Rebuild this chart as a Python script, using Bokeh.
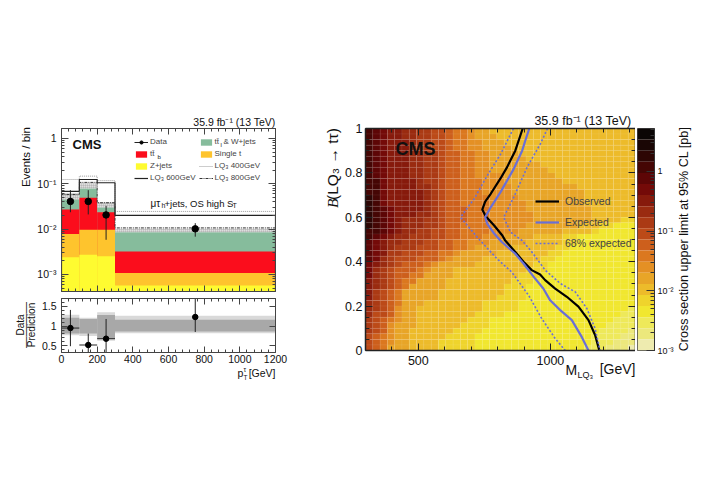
from math import pi

from bokeh.core.properties import value
from bokeh.embed import file_html
from bokeh.layouts import column, row
from bokeh.models import (ColumnDataSource, CustomJSTickFormatter, FixedTicker, Legend,
                          LegendItem, LinearAxis, LogAxis, LogColorMapper, LogTicker)
from bokeh.plotting import figure
from bokeh.resources import INLINE

FONT = "Liberation Sans"

# left panel: pT spectrum
bin_left = [0, 100, 200, 300]
bin_right = [100, 200, 300, 1200]
bin_center = [50, 150, 250, 750]
y_floor = 4.2e-4
zjets_top = [0.0024, 0.0027, 0.0025, 0.00057]
singlet_top = [0.0078, 0.0097, 0.0096, 0.00107]
ttb_top = [0.027, 0.049, 0.0236, 0.0032]
ttw_top = [0.045, 0.078, 0.030, 0.0085]
unc_top = [0.061, 0.103, 0.039, 0.0102]
lq400 = [0.124, 0.147, 0.117, 0.0245]
lq600 = [0.068, 0.124, 0.105, 0.0200]
lq800 = [0.058, 0.107, 0.038, 0.0106]
data_y = [0.0407, 0.0407, 0.0205, 0.0101]
data_up = [0.072, 0.072, 0.0325, 0.0135]
data_down = [0.0235, 0.021, 0.0058, 0.0068]

# ratio panel
ratio_y = [0.95, 0.52, 0.68, 1.23]
ratio_up = [1.41, 0.81, 1.18, 1.7]
ratio_down = [0.49, 0.33, 0.33, 0.85]
ratio_xerr = [50, 50, 50, 0]
band_light_up = [1.29, 1.21, 1.35, 1.26]
band_light_down = [0.77, 0.75, 0.63, 0.82]
band_dark_up = [1.21, 1.18, 1.28, 1.16]
band_dark_down = [0.81, 0.81, 0.68, 0.86]

# right panel: one string per row from B=1 down to B=0, one band number per mass bin (dark 0 ... j light)
limit_rows = [
    "34566778899abbcddeeeeeeeeeeeeeeeeeeee",
    "34566778899abbcdddeeeeeeeeeeeeeeeeeee",
    "34566678899abbccdddeeeeeeeeeeeeeeeeee",
    "34566678899abbccddddeeeeeeeeeeeeeeeee",
    "34566677889aabbccddddeeeeeeeeeeeeeeee",
    "34566677889aabbccdddddeeeeeeeeeeeeeee",
    "34566677889aabbccdddddddeeeeeeeeeeeee",
    "34566677889aabbccddddddddeeeeeeeeeeee",
    "34566677889aabbccccdddddddeeeeeeeeeee",
    "33566667889aabbbcccddddddddeeeeeeeeee",
    "33566667789aabbbccccdddddddddeeeeeeee",
    "33566666789aabbbccccddddddddddeeeeeee",
    "23566666789aabbbbccccdddddddddeeeeeee",
    "23566666789aabbbbcccccddddddddeeeeeee",
    "23456666789aaabbbcccccdddddddddeeeeee",
    "23456667789aaabbbccccccddddddddeeeeee",
    "23456777889aaabbbccccccddddddddeeeeff",
    "23456777889aabbbbcccccdddddddeeeffggg",
    "33456778899aabbbbccccddddddeeeefggggg",
    "34567788899aabbbcccddddeeeeffgggggggg",
    "4567788899aabbcccdddddeeeeeffgggggggg",
    "4567888999aabbcdddddeeeeeeffggggggggg",
    "45688999aabbcdddddeeeeeeeffgggggggggg",
    "4578999aaabcddddeeeeeeeeffggggggggggg",
    "56789aaabcdddddeeeeeeeeffgggggggggggg",
    "5789aaabcdddeeeeeeeeeefffgggggggggggg",
    "5789aabbddddeeeeeeeeefffggggggggggggg",
    "6789abbddddeeeeeeeeefffgggggggggggggg",
    "6789abdddddeeeeeeeefffggggggggggggggg",
    "689abdddddeeeeeeeeefffggggggggggggggg",
    "689abdddddeeeeeeeeffffggggggggggggggg",
    "789abdddeeeeeeeefffffgggggggggggggggg",
    "789acddeeeeeeeeefffffgggggggggggggggh",
    "799acddeeeeeeeeffffgggggggggggggggghh",
    "89abcddeeeeeeefffggggggggggggggggghhh",
    "89acdddeeeeeeffffgggggggggggggggghhhh",
    "89acddeeeeeeffffgggggggggggggggghhhhi",
    "9abcddeeeeeffffgggggggggggggggghhhhii",
    "9abcddeeeefffffgggggggggggggggghhhiii",
    "9abdddeeeefffffggggggggggggggghhhiiij",
]
band_values = [4.2, 2.75, 1.8, 1.17, 0.76, 0.50, 0.32, 0.21, 0.137, 0.09, 0.058, 0.038, 0.0247, 0.0161, 0.0105,
               0.0068, 0.0045, 0.0029, 0.0019, 0.00124]
band_edges = [5.22, 3.40, 2.22, 1.445, 0.942, 0.614, 0.40, 0.261, 0.17, 0.111, 0.0722, 0.0471, 0.0307, 0.02, 0.013,
              0.0085, 0.00554, 0.00361, 0.00235, 0.00153, 0.001]
band_colors = ["#0b0605", "#1a0605", "#2d0604", "#450604", "#5d0606", "#740a08", "#871a0c", "#9a2b10", "#ab3a14",
               "#bc4a18", "#cd5f1c", "#db781f", "#e49024", "#e8a527", "#edbb2a", "#efd42c", "#f1e72f", "#eee95a",
               "#ece87c", "#eeebaf"]
mass_low = 300
mass_high = 1322

obs_m = [895, 867, 836, 811, 774, 753, 742, 755, 787, 818, 828, 866, 898, 929, 961, 980, 1018, 1062, 1106, 1144, 1169, 1185]
obs_b = [1.0, 0.90, 0.826, 0.775, 0.706, 0.671, 0.635, 0.605, 0.563, 0.518, 0.497, 0.445, 0.40, 0.362, 0.342, 0.317,
         0.279, 0.242, 0.198, 0.137, 0.07, 0.0]
exp_m = [920, 905, 893, 861, 818, 811, 774, 753, 761, 787, 815, 866, 898, 942, 973, 999, 1037, 1081, 1119, 1144]
exp_b = [1.0, 0.946, 0.90, 0.818, 0.728, 0.713, 0.645, 0.60, 0.57, 0.527, 0.49, 0.437, 0.392, 0.324, 0.279, 0.226,
         0.182, 0.137, 0.06, 0.0]
low_m = [860, 812, 761, 711, 660, 723, 798, 853, 886, 917, 967, 1018, 1056]
low_b = [1.0, 0.886, 0.788, 0.683, 0.60, 0.51, 0.413, 0.354, 0.30, 0.249, 0.144, 0.054, 0.0]
high_m = [989, 962, 912, 861, 823, 849, 893, 929, 980, 1037, 1094, 1138, 1169, 1188]
high_b = [1.0, 0.931, 0.826, 0.69, 0.60, 0.533, 0.495, 0.445, 0.362, 0.302, 0.264, 0.189, 0.099, 0.0]


power_labels = CustomJSTickFormatter(code="""
    const e = Math.round(Math.log10(tick));
    const sup = {1: "\\u207b\\u00b9", 2: "\\u207b\\u00b2", 3: "\\u207b\\u00b3"};
    return e == 0 ? "1" : (e < 0 ? "10" + sup[-e] : "");
""")
no_labels = CustomJSTickFormatter(code='return "";')


def style_axis(ax, size, tick=6, minor=3, width=1, color="#222222"):
    ax.axis_line_color = color
    ax.axis_line_width = width
    ax.major_tick_line_color = color
    ax.minor_tick_line_color = color
    ax.major_tick_in = tick
    ax.major_tick_out = 0
    ax.minor_tick_in = minor
    ax.minor_tick_out = 0
    ax.major_label_text_font = FONT
    ax.major_label_text_font_size = size
    ax.major_label_text_color = "#111111"


def mirror(p, side, ax, **kw):
    ax.formatter = no_labels
    style_axis(ax, "0px", **kw)
    ax.major_label_standoff = 0
    p.add_layout(ax, side)


# ---- spectrum
p1 = figure(width=300, height=298, frame_width=214, frame_height=163, min_border_left=61, min_border_right=25,
            min_border_top=128, min_border_bottom=7, x_range=(0, 1200), y_range=(y_floor, 1.65), y_axis_type="log",
            output_backend="svg", toolbar_location=None)
p1.outline_line_color = None
p1.grid.visible = False
p1.xaxis.ticker = FixedTicker(ticks=[0, 200, 400, 600, 800, 1000, 1200], minor_ticks=list(range(0, 1201, 40)))
p1.xaxis.formatter = no_labels
style_axis(p1.xaxis[0], "0px", color="#444444")
p1.xaxis.major_label_standoff = 0
p1.yaxis.formatter = power_labels
p1.yaxis.ticker = LogTicker(num_minor_ticks=10)
style_axis(p1.yaxis[0], "10.5px", tick=7, color="#444444")
p1.yaxis.major_label_standoff = 5
mirror(p1, "above", LinearAxis(ticker=FixedTicker(ticks=[0, 200, 400, 600, 800, 1000, 1200],
                                                  minor_ticks=list(range(0, 1201, 40)))), color="#444444")
mirror(p1, "right", LogAxis(ticker=LogTicker(num_minor_ticks=10)), tick=7, color="#444444")

src = ColumnDataSource(dict(left=bin_left, right=bin_right, zjets=zjets_top, singlet=singlet_top, ttb=ttb_top,
                            ttw=ttw_top, unc=unc_top, floor=[y_floor] * 4))
r_ttw = p1.quad(left="left", right="right", bottom="floor", top="ttw", source=src, fill_color="#86bc9c", line_color=None)
r_ttb = p1.quad(left="left", right="right", bottom="floor", top="ttb", source=src, fill_color="#fb0d1c", line_color=None)
r_st = p1.quad(left="left", right="right", bottom="floor", top="singlet", source=src, fill_color="#fec42d", line_color=None)
r_z = p1.quad(left="left", right="right", bottom="floor", top="zjets", source=src, fill_color="#fefb30", line_color=None)
p1.quad(left="left", right="right", bottom="ttw", top="unc", source=src, fill_color="#bdbdbd", fill_alpha=0.5, line_color=None,
        hatch_pattern="cross", hatch_color="#8a8a8a", hatch_scale=2, hatch_weight=0.5)

step_x = [bin_left[0], bin_left[0], bin_right[0], bin_right[0], bin_right[1], bin_right[1], bin_right[2], bin_right[2], bin_right[3], bin_right[3]]


def steps(vals):
    return [y_floor, vals[0], vals[0], vals[1], vals[1], vals[2], vals[2], vals[3], vals[3], y_floor]


r_400 = p1.line(step_x, steps(lq400), line_color="#9a9a9a", line_width=1, line_dash="1 1")
r_600 = p1.line(step_x, steps(lq600), line_color="#222222", line_width=1.2)
r_800 = p1.line(step_x, steps(lq800), line_color="#333333", line_width=1, line_dash="3 1 1 1")
r_err = p1.segment(bin_center, data_down, bin_center, data_up, line_color="#222222", line_width=1)
r_pts = p1.scatter(bin_center, data_y, size=6.5, color="black")

leg1 = Legend(items=[LegendItem(label="Data", renderers=[r_err, r_pts]),
                     LegendItem(label="tt\u0304", renderers=[r_ttb]),
                     LegendItem(label="Z+jets", renderers=[r_z]),
                     LegendItem(label="LQ\u2083 600GeV", renderers=[r_600]),
                     LegendItem(label="tt\u0304  & W+jets", renderers=[r_ttw]),
                     LegendItem(label="Single t", renderers=[r_st]),
                     LegendItem(label="LQ\u2083 400GeV", renderers=[r_400]),
                     LegendItem(label="LQ\u2083 800GeV", renderers=[r_800])],
              ncols=2, location=(73, 109), label_text_font=FONT, label_text_font_size="8px", glyph_width=14,
              glyph_height=8, label_height=8, label_standoff=2, spacing=3, padding=0, margin=0,
              border_line_color=None, background_fill_color=None)
leg1.orientation = "vertical"
p1.add_layout(leg1)

# ---- ratio
p2 = figure(width=300, height=99, frame_width=214, frame_height=54, min_border_left=61, min_border_right=25,
            min_border_top=0, min_border_bottom=45, x_range=(0, 1200), y_range=(0.33, 1.7),
            output_backend="svg", toolbar_location=None)
p2.outline_line_color = None
p2.grid.visible = False
p2.xaxis.ticker = FixedTicker(ticks=[0, 200, 400, 600, 800, 1000, 1200], minor_ticks=list(range(0, 1201, 40)))
style_axis(p2.xaxis[0], "10.5px", color="#444444")
p2.xaxis.major_label_standoff = 2
p2.yaxis.ticker = FixedTicker(ticks=[0.5, 1, 1.5], minor_ticks=[0.4, 0.6, 0.7, 0.8, 0.9, 1.1, 1.2, 1.3, 1.4, 1.6])
style_axis(p2.yaxis[0], "10.5px", color="#444444")
p2.yaxis.major_label_standoff = 5
mirror(p2, "above", LinearAxis(ticker=FixedTicker(ticks=[0, 200, 400, 600, 800, 1000, 1200],
                                                  minor_ticks=list(range(0, 1201, 40)))), color="#444444")
mirror(p2, "right", LinearAxis(ticker=FixedTicker(ticks=[0.5, 1, 1.5])), color="#444444")

p2.quad(left=bin_left, right=bin_right, bottom=band_light_down, top=band_light_up, fill_color="#d9d9d9", line_color=None)
p2.quad(left=bin_left, right=bin_right, bottom=band_dark_down, top=band_dark_up, fill_color="#a8a8a8", line_color=None)
p2.segment(bin_center, ratio_down, bin_center, ratio_up, line_color="#222222", line_width=1)
p2.segment([c - e for c, e in zip(bin_center, ratio_xerr)], ratio_y, [c + e for c, e in zip(bin_center, ratio_xerr)],
           ratio_y, line_color="#222222", line_width=1)
p2.scatter(bin_center, ratio_y, size=5.5, color="black")

# ---- limit map
p3 = figure(width=335, height=395, frame_width=270, frame_height=222, min_border_left=65, min_border_right=0,
            min_border_top=128, min_border_bottom=45, x_range=(mass_low, mass_high), y_range=(0, 1),
            output_backend="svg", toolbar_location=None)
p3.outline_line_color = None
p3.grid.visible = False
mapper = LogColorMapper(palette=band_colors[::-1], low=band_edges[-1], high=band_edges[0])
n_cols = len(limit_rows[0])
n_rows = len(limit_rows)
cell_w = (mass_high - mass_low) / n_cols
cell_h = 1 / n_rows
cells = dict(x=[], y=[], limit=[])
for i, row_text in enumerate(limit_rows):
    for j, ch in enumerate(row_text[:n_cols]):
        cells["x"].append(mass_low + (j + 0.5) * cell_w)
        cells["y"].append(1 - (i + 0.5) * cell_h)
        cells["limit"].append(band_values[int(ch, 20)])
p3.rect(x="x", y="y", width=cell_w, height=cell_h, source=ColumnDataSource(cells),
        fill_color={"field": "limit", "transform": mapper}, line_color="white", line_alpha=0.07, line_width=0.8)

r_obs = p3.line(obs_m, obs_b, line_color="black", line_width=2.2)
r_exp = p3.line(exp_m, exp_b, line_color="#6a6fd6", line_width=2.2)
r_band = p3.line(low_m, low_b, line_color="#6a6fd6", line_width=1.6, line_dash="2 2")
p3.line(high_m, high_b, line_color="#6a6fd6", line_width=1.6, line_dash="2 2")

mass_ticks = [500, 1000]
mass_minor = [400, 500, 600, 700, 800, 900, 1000, 1100, 1200, 1300]
b_ticks = [0, 0.2, 0.4, 0.6, 0.8, 1]
b_minor = [0.05 * k for k in range(21)]
p3.xaxis.ticker = FixedTicker(ticks=mass_ticks, minor_ticks=mass_minor)
style_axis(p3.xaxis[0], "12.5px", tick=7, minor=4, width=1.5)
p3.xaxis.major_label_standoff = 5
p3.yaxis.ticker = FixedTicker(ticks=b_ticks, minor_ticks=b_minor)
style_axis(p3.yaxis[0], "12.5px", tick=7, minor=4, width=1.5)
p3.yaxis.major_label_standoff = 3
mirror(p3, "above", LinearAxis(ticker=FixedTicker(ticks=mass_ticks, minor_ticks=mass_minor)), tick=7, minor=4, width=1.5)
mirror(p3, "right", LinearAxis(ticker=FixedTicker(ticks=b_ticks, minor_ticks=b_minor)), tick=7, minor=4, width=1.5)

leg3 = Legend(items=[LegendItem(label="Observed", renderers=[r_obs]), LegendItem(label="Expected", renderers=[r_exp]),
                     LegendItem(label="68% expected", renderers=[r_band])],
              location=(170, 101), label_text_font=FONT, label_text_font_size="10.5px", glyph_width=24, glyph_height=10,
              label_height=12, label_standoff=6, spacing=9, padding=0, margin=0, border_line_color=None,
              background_fill_color=None)
p3.add_layout(leg3)

# ---- colour scale
p4 = figure(width=65, height=395, frame_width=17, frame_height=222, min_border_left=2, min_border_right=46,
            min_border_top=128, min_border_bottom=45, x_range=(0, 1), y_range=(band_edges[-1], band_edges[0]),
            y_axis_type="log", y_axis_location="right", output_backend="svg", toolbar_location=None)
p4.outline_line_color = "#444444"
p4.grid.visible = False
p4.xaxis.visible = False
p4.quad(left=0, right=1, bottom=band_edges[1:], top=band_edges[:-1], fill_color=band_colors, line_color=None)
p4.yaxis.ticker = LogTicker(num_minor_ticks=10)
p4.yaxis.formatter = power_labels
style_axis(p4.yaxis[0], "9px", tick=8, minor=4, color="#333333")
p4.yaxis.major_label_standoff = 3

# ---- all free text sits in one see-through figure laid over the panels, its data units are page pixels
notes = figure(width=700, height=395, x_range=(0, 700), y_range=(395, 0), x_axis_location=None, y_axis_location=None,
               min_border=0, output_backend="svg", toolbar_location=None, margin=(-395, 0, 0, 0))
notes.outline_line_color = None
notes.grid.visible = False
notes.background_fill_color = None
notes.border_fill_color = None


def put(x, y, text, size, angle=0, align="left", style="normal", font=FONT):
    notes.text(x=[x], y=[y - 2.5], text=[text], text_font=value(font), text_font_size=value(size), text_font_style=style,
               angle=angle, text_align=align, text_baseline="middle", text_color="#111111")


put(275, 122, "35.9 fb\u207b\u00b9 (13 TeV)", "10.5px", align="right")
put(72, 144, "CMS", "13px", style="bold")
put(25, 127, "Events / bin", "11.5px", angle=pi / 2, align="right")
put(150, 203, "\u03bc\u03c4", "10px")
put(161, 205, "h", "7px")
put(164, 203, "+jets, OS high S", "9.5px")
put(232, 205, "T", "7px")
put(157, 157, "b", "6px")
put(220, 145, "l", "6px")

put(20, 325, "Data", "10px", angle=pi / 2, align="center")
put(31, 325, "Prediction", "10px", angle=pi / 2, align="center")
put(24.5, 325, "\u2014\u2014\u2014\u2014", "11.5px", angle=pi / 2, align="center")
put(237, 373, "p", "10.5px")
put(243, 377, "T", "6.5px")
put(243, 369, "\u03c4", "6.5px")
put(275, 373, "[GeV]", "10.5px", align="right")

put(631, 121, "35.9 fb\u207b\u00b9 (13 TeV)", "12.5px", align="right")
put(395, 149, "CMS", "18px", style="bold")
put(332, 208, "B", "15.5px", angle=pi / 2, style="italic", font="Liberation Serif")
put(332, 200, "(LQ\u2083 \u2192 t\u03c4)", "15.5px", angle=pi / 2, align="left")
put(565, 370, "M", "14px")
put(577, 375, "LQ\u2083", "9px")
put(635, 369, "[GeV]", "14px", align="right")

put(683, 239, "Cross section upper limit at 95% CL [pb]", "12.6px", angle=pi / 2, align="center")

page = column(row(column(p1, p2, spacing=0), p3, p4, spacing=0), notes, spacing=0)

open("out.html", "w").write(file_html(page, INLINE))
